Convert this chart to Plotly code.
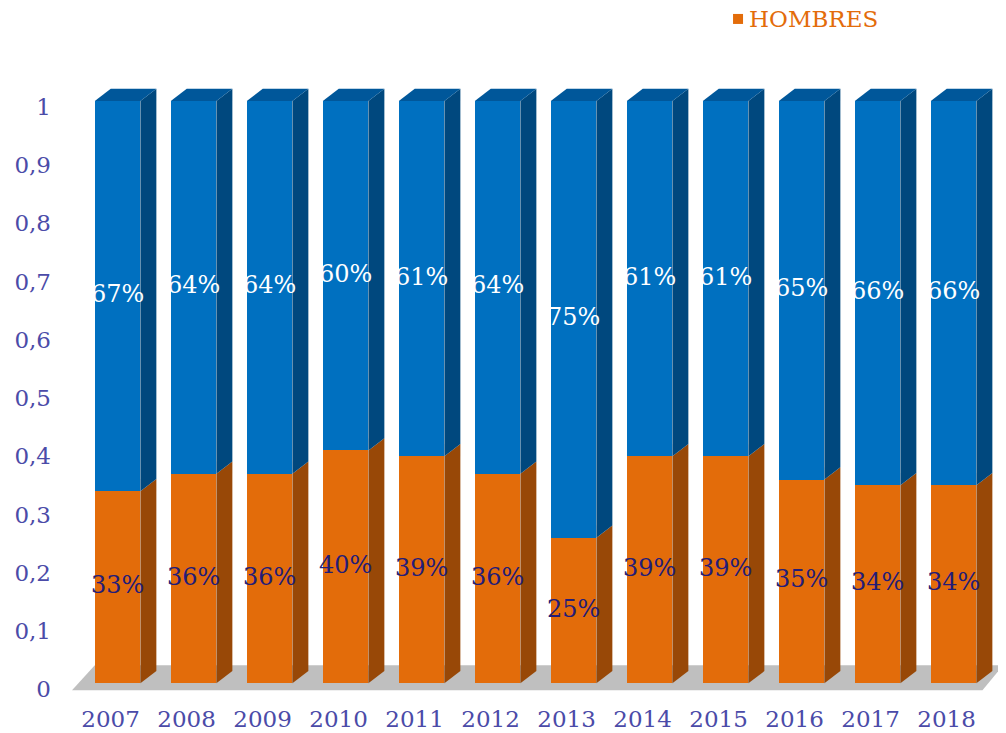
import plotly.graph_objects as go

years = ["2007", "2008", "2009", "2010", "2011", "2012", "2013", "2014", "2015", "2016", "2017", "2018"]
hombres = [0.33, 0.36, 0.36, 0.40, 0.39, 0.36, 0.25, 0.39, 0.39, 0.35, 0.34, 0.34]
mujeres = [0.67, 0.64, 0.64, 0.60, 0.61, 0.64, 0.75, 0.61, 0.61, 0.65, 0.66, 0.66]
y_ticks = [0, 0.1, 0.2, 0.3, 0.4, 0.5, 0.6, 0.7, 0.8, 0.9, 1]
y_tick_labels = ["0", "0,1", "0,2", "0,3", "0,4", "0,5", "0,6", "0,7", "0,8", "0,9", "1"]

FONT = "DejaVu Serif"
ORANGE = "#E36C0A"
ORANGE_SIDE = "#984807"
BLUE = "#0070C0"
BLUE_SIDE = "#00487E"
BLUE_TOP = "#00579A"
TICK_COLOR = "#4B4BA8"
BW = 0.6
DX = 0.21
DY = 0.021

xs = list(range(len(years)))

fig = go.Figure()
fig.add_trace(go.Bar(x=xs, y=hombres, name="HOMBRES", marker=dict(color=ORANGE, line=dict(width=0)),
                     width=BW, showlegend=False))
fig.add_trace(go.Bar(x=xs, y=mujeres, name="MUJERES", marker=dict(color=BLUE, line=dict(width=0)),
                     width=BW, showlegend=False))

# labels
fig.add_trace(go.Scatter(x=xs, y=[h / 2 for h in hombres], mode="text",
                         text=[f"{round(h*100)}%" for h in hombres],
                         textfont=dict(family=FONT, size=24, color="#231C78"),
                         showlegend=False, hoverinfo="skip"))
fig.add_trace(go.Scatter(x=xs, y=[h + m / 2 for h, m in zip(hombres, mujeres)], mode="text",
                         text=[f"{round(m*100)}%" for m in mujeres],
                         textfont=dict(family=FONT, size=24, color="#FFFFFF"),
                         showlegend=False, hoverinfo="skip"))

shapes = []
# floor
shapes.append(dict(type="path", xref="x", yref="y", layer="below",
                   path="M -0.6 -0.012 L 11.38 -0.012 L 11.65 0.031 L -0.3 0.031 Z",
                   fillcolor="#BFBFBF", line=dict(width=0)))
for i, (h, m) in enumerate(zip(hombres, mujeres)):
    x1 = i + BW / 2
    x0 = i - BW / 2
    shapes.append(dict(type="path", xref="x", yref="y", layer="below",
                       path=f"M {x1} 0 L {x1+DX} {DY} L {x1+DX} {h+DY} L {x1} {h} Z",
                       fillcolor=ORANGE_SIDE, line=dict(width=0)))
    t = h + m
    shapes.append(dict(type="path", xref="x", yref="y", layer="below",
                       path=f"M {x1} {h} L {x1+DX} {h+DY} L {x1+DX} {t+DY} L {x1} {t} Z",
                       fillcolor=BLUE_SIDE, line=dict(width=0)))
    shapes.append(dict(type="path", xref="x", yref="y", layer="below",
                       path=f"M {x0} {t} L {x0+DX} {t+DY} L {x1+DX} {t+DY} L {x1} {t} Z",
                       fillcolor=BLUE_TOP, line=dict(width=0)))

# legend marker (square)
shapes.append(dict(type="rect", xref="paper", yref="paper", xsizemode="pixel", ysizemode="pixel",
                   xanchor=0.7154, yanchor=1.0748, x0=-5, x1=5, y0=-5, y1=5,
                   fillcolor=ORANGE, line=dict(width=0)))

annotations = [dict(xref="paper", yref="paper", x=0.7245, y=1.0748, xanchor="left", yanchor="middle",
                    showarrow=False, text="HOMBRES",
                    font=dict(family=FONT, size=23, color=ORANGE))]

fig.update_layout(
    barmode="stack",
    width=998, height=725,
    margin=dict(l=64, r=3, t=58, b=38, autoexpand=False),
    plot_bgcolor="white", paper_bgcolor="white",
    shapes=shapes, annotations=annotations,
    showlegend=False,
    font=dict(family=FONT, size=23, color=TICK_COLOR),
    xaxis=dict(tickmode="array", tickvals=xs, ticktext=years, range=[-0.6, 11.65],
               showgrid=False, zeroline=False, showline=False, ticks="", automargin=False,
               tickfont=dict(family=FONT, size=23, color=TICK_COLOR), ticklabelshift=-7,
               ticklabelstandoff=8),
    yaxis=dict(tickmode="array", tickvals=y_ticks, ticktext=y_tick_labels, range=[-0.02, 1.06],
               showgrid=False, zeroline=False, showline=False, ticks="", automargin=False,
               tickfont=dict(family=FONT, size=23, color=TICK_COLOR), ticklabelshift=6,
               ticklabelstandoff=20),
)

fig.write_html("out.html")
